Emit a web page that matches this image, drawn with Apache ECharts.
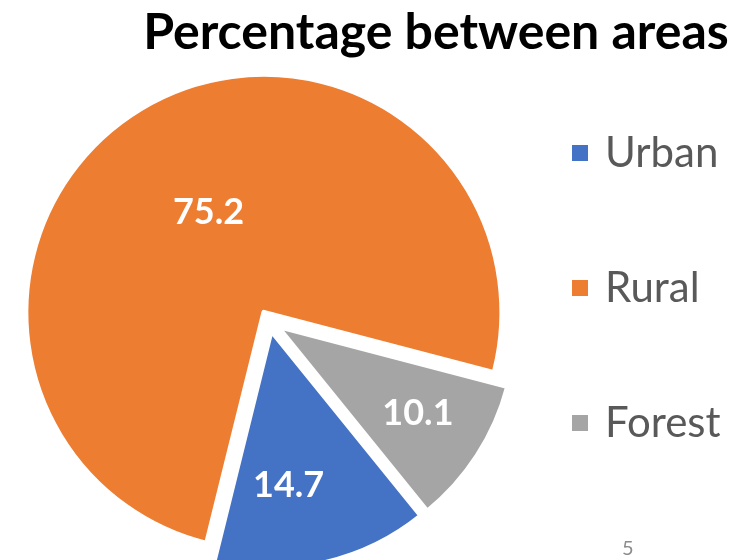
<!DOCTYPE html>
<html>
<head>
<meta charset="utf-8">
<script src="https://cdn.jsdelivr.net/npm/echarts@6/dist/echarts.min.js"></script>
<style>
  html, body { margin: 0; padding: 0; background: #fff; }
  #chart { width: 756px; height: 560px; }
</style>
</head>
<body>
<div id="chart"></div>
<script>
// 数据
const categories = ["Urban", "Rural", "Forest"]
const values = [14.7, 75.2, 10.1]
const colors = ["#4472C4", "#ED7D31", "#A5A5A5"]
// 标签微调 (dx, dy)
const labelShift = [[-9, 36], [7, 5], [38, 21]]

const myChart = echarts.init(document.getElementById("chart"))

const option = {
  animation: false,
  title: {
    text: "Percentage between areas",
    left: 431,
    textAlign: "center",
    top: 3,
    textStyle: {
      fontFamily: "Lato",
      fontWeight: "bold",
      fontSize: 50,
      color: "#000",
    },
  },
  legend: {
    orient: "vertical",
    left: 565,
    top: 126,
    itemWidth: 18,
    itemHeight: 18,
    itemGap: 91,
    icon: "rect",
    data: categories,
    selectedMode: false,
    textStyle: {
      fontFamily: "Lato",
      fontSize: 42,
      lineHeight: 44,
      color: "#595959",
      padding: [0, 0, 0, 11],
    },
  },
  graphic: [
    {
      type: "text",
      left: 622,
      top: 539,
      style: {
        text: "5",
        fill: "#8c8c8c",
        fontFamily: "Lato",
        fontSize: 20,
      },
    },
  ],
  series: [
    {
      type: "pie",
      center: [269, 321],
      radius: 238,
      startAngle: -51,
      clockwise: true,
      selectedMode: "multiple",
      selectedOffset: 10,
      emphasis: { disabled: true },
      itemStyle: {
        borderColor: "#fff",
        borderWidth: 5,
      },
      label: {
        position: "inside",
        formatter: "{c}",
        color: "#fff",
        fontFamily: "Lato",
        fontWeight: "bold",
        fontSize: 36,
      },
      labelLine: { show: false },
      labelLayout: (params) => ({
        dx: labelShift[params.dataIndex][0],
        dy: labelShift[params.dataIndex][1],
      }),
      data: categories.map((name, i) => ({
        name,
        value: values[i],
        selected: true,
        itemStyle: { color: colors[i] },
      })),
    },
  ],
}

myChart.setOption(option)
</script>
</body>
</html>
